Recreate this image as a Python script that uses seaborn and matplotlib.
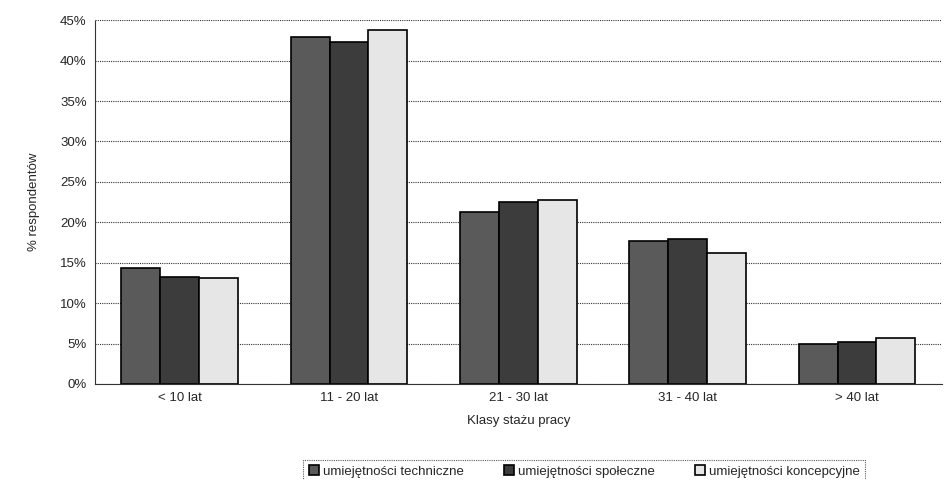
import numpy as np
import pandas as pd
import matplotlib
matplotlib.use('Agg')
import matplotlib.pyplot as plt
import seaborn as sns
from matplotlib.ticker import PercentFormatter

# dane
klasy = ['< 10 lat', '11 - 20 lat', '21 - 30 lat', '31 - 40 lat', '> 40 lat']
serie = ['umiejętności techniczne', 'umiejętności społeczne', 'umiejętności koncepcyjne']
techniczne = [14.3, 42.9, 21.3, 17.7, 4.9]
spoleczne = [13.2, 42.3, 22.5, 17.9, 5.2]
koncepcyjne = [13.1, 43.8, 22.7, 16.2, 5.7]

df = pd.DataFrame({
    'klasa': klasy * 3,
    'seria': np.repeat(serie, len(klasy)),
    'wartosc': techniczne + spoleczne + koncepcyjne,
})

sns.set_style('white')
plt.rcParams['font.family'] = ['Liberation Sans', 'DejaVu Sans']

fig = plt.figure(figsize=(9.45, 4.8), dpi=100)
ax = fig.add_axes([0.1005, 0.2, 0.896, 0.758])

paleta = ['#5a5a5a', '#3c3c3c', '#e6e6e6']
sns.barplot(data=df, x='klasa', y='wartosc', hue='seria', palette=paleta,
            width=0.69, edgecolor='black', linewidth=1.2, ax=ax, legend=True)

ax.set_ylim(0, 45)
ax.set_yticks(range(0, 46, 5))
ax.yaxis.set_major_formatter(PercentFormatter(decimals=0))
ax.grid(axis='y', linestyle=(0, (1, 1)), color='#333333', linewidth=0.8)
ax.set_axisbelow(True)
for s in ['top', 'right']:
    ax.spines[s].set_visible(False)
ax.spines['left'].set_linestyle((0, (1, 1)))
ax.spines['bottom'].set_linestyle((0, (1, 1)))
ax.spines['left'].set_color('#333333')
ax.spines['bottom'].set_color('#333333')
ax.tick_params(axis='both', labelsize=9.5, length=0, pad=6)
ax.set_xlabel('Klasy stażu pracy', fontsize=9.5, labelpad=8)
ax.set_ylabel('% respondentów', fontsize=9.5, labelpad=14)

leg = ax.legend(loc='upper center', bbox_to_anchor=(0.578, -0.19), ncol=3,
                fontsize=9.5, frameon=True, fancybox=False, handlelength=0.8,
                handleheight=0.8, handletextpad=0.3, columnspacing=3.0,
                borderpad=0.4)
leg.get_frame().set_edgecolor('#333333')
leg.get_frame().set_linestyle((0, (1, 1)))
leg.get_frame().set_linewidth(0.8)

fig.savefig('out.png', dpi=100)
